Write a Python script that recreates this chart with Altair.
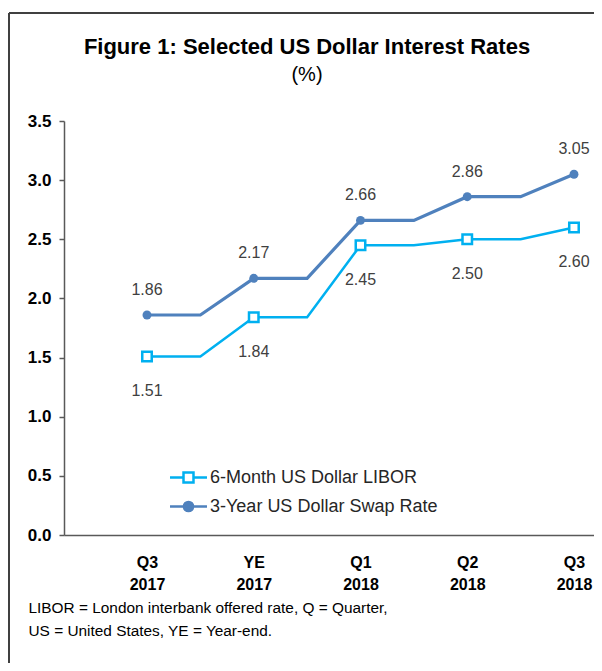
import altair as alt
import pandas as pd

# ---- data ----
quarters = ["Q3", "YE", "Q1", "Q2", "Q3"]
years = ["2017", "2017", "2018", "2018", "2018"]
steps = [0, 1, 2, 3, 4, 5, 6, 7, 8]          # half-quarter steps; markers at even steps
libor = [1.51, 1.51, 1.84, 1.84, 2.45, 2.45, 2.50, 2.50, 2.60]
swap = [1.86, 1.86, 2.17, 2.17, 2.66, 2.66, 2.86, 2.86, 3.05]
series_names = ["6-Month US Dollar LIBOR", "3-Year US Dollar Swap Rate"]
colors = ["#00B0F0", "#4F81BD"]
marker_fills = ["#FFFFFF", "#4F81BD"]
y_ticks = [0.0, 0.5, 1.0, 1.5, 2.0, 2.5, 3.0, 3.5]
title_text = "Figure 1: Selected US Dollar Interest Rates"
subtitle_text = "(%)"
footnote = ["LIBOR = London interbank offered rate, Q = Quarter,",
            "US = United States, YE = Year-end."]

FONT = "Liberation Sans, Arial, sans-serif"

rows = []
for name, vals in zip(series_names, [libor, swap]):
    for s, v in zip(steps, vals):
        rows.append({"step": s, "value": v, "series": name,
                     "marker": s % 2 == 0, "label": f"{v:.2f}"})
df = pd.DataFrame(rows)

W, H = 530, 414

q_arr = "[" + ",".join(f"'{q}'" for q in quarters) + "]"
y_arr = "[" + ",".join(f"'{y}'" for y in years) + "]"

x_enc = alt.X(
    "step:Q",
    scale=alt.Scale(domain=[-1.555, 8.375], nice=False, zero=False),
    axis=alt.Axis(
        values=[0, 2, 4, 6, 8],
        labelExpr=f"[{q_arr}[datum.value/2], {y_arr}[datum.value/2]]",
        labelFont=FONT, labelFontSize=16, labelFontWeight="bold", labelColor="#000000",
        labelLineHeight=22, labelPadding=19, labelOverlap=False, labelFlush=False,
        ticks=False, grid=False, domainColor="#595959", domainWidth=1.5,
        title=footnote, titleFont=FONT, titleFontSize=15.4, titleFontWeight="normal",
        titleColor="#000000", titleAlign="left", titleAnchor="start",
        titleBaseline="top", titleLineHeight=23, titleX=-36, titleY=65,
    ),
)
y_enc = alt.Y(
    "value:Q",
    scale=alt.Scale(domain=[0, 3.5], nice=False, zero=True),
    axis=alt.Axis(
        values=y_ticks, format=".1f", title=None,
        labelFont=FONT, labelFontSize=17, labelFontWeight="bold", labelColor="#000000",
        labelPadding=8, tickSize=5, tickColor="#595959", tickWidth=1.5,
        domainColor="#595959", domainWidth=1.5, grid=False,
    ),
)

base = alt.Chart(df)
libor_df = base.transform_filter(f"datum.series == '{series_names[0]}'")
swap_df = base.transform_filter(f"datum.series == '{series_names[1]}'")

libor_line = libor_df.mark_line(color=colors[0], strokeWidth=2.5).encode(x=x_enc, y=y_enc)
swap_line = swap_df.mark_line(color=colors[1], strokeWidth=3.2).encode(x=x_enc, y=y_enc)

libor_m = libor_df.transform_filter("datum.marker")
swap_m = swap_df.transform_filter("datum.marker")

libor_pts = libor_m.mark_point(shape="square", filled=True, fill="white", stroke=colors[0],
                               strokeWidth=2.5, size=90, opacity=1).encode(x=x_enc, y=y_enc)
swap_pts = swap_m.mark_circle(size=80, color=colors[1], opacity=1).encode(x=x_enc, y=y_enc)

libor_txt = libor_m.mark_text(dy=35, font=FONT, fontSize=16, color="#404040").encode(
    x=x_enc, y=y_enc, text="label:N")
swap_txt = swap_m.mark_text(dy=-25, font=FONT, fontSize=16, color="#404040").encode(
    x=x_enc, y=y_enc, text="label:N")

# legend symbols: line with marker (path drawn in a -2..2 box so the line is twice the nominal size)
path_sq = "M-2,0H-0.54M0.54,0H2M-0.54,-0.54H0.54V0.54H-0.54Z"
path_ci = "M-2,0H2M-0.5,0A0.5,0.5 0 1,0 0.5,0A0.5,0.5 0 1,0 -0.5,0Z"

legend = alt.Legend(
    title=None, orient="none", legendX=114, legendY=346, padding=0,
    labelFont=FONT, labelFontSize=18, labelColor="#262626", labelOffset=11, labelLimit=400,
    symbolSize=342, symbolStrokeWidth=2.5, symbolOpacity=1, rowPadding=8,
)
legend_layer = base.transform_filter("datum.marker").mark_point(opacity=0).encode(
    x=x_enc, y=y_enc,
    stroke=alt.Stroke("series:N", scale=alt.Scale(domain=series_names, range=colors), legend=legend),
    fill=alt.Fill("series:N", scale=alt.Scale(domain=series_names, range=marker_fills), legend=legend),
    shape=alt.Shape("series:N", scale=alt.Scale(domain=series_names, range=[path_sq, path_ci]), legend=legend),
)

frame_df = pd.DataFrame({"a": [0]})
frame_top = alt.Chart(frame_df).mark_rule(color="#404040", strokeWidth=2).encode(
    x=alt.value(-55), x2=alt.value(W), y=alt.value(-108))
frame_left = alt.Chart(frame_df).mark_rule(color="#404040", strokeWidth=2).encode(
    x=alt.value(-55), y=alt.value(-108), y2=alt.value(H + 128))

chart = alt.layer(
    frame_top, frame_left, libor_line, swap_line, libor_pts, swap_pts,
    libor_txt, swap_txt, legend_layer
).properties(
    width=W, height=H,
    padding={"left": 56, "top": 113, "right": 0, "bottom": 128},
    autosize=alt.AutoSizeParams(type="none"),
    title=alt.Title(
        text=title_text, subtitle=subtitle_text,
        font=FONT, fontSize=22, fontWeight="bold", color="#000000",
        subtitleFont=FONT, subtitleFontSize=20, subtitleColor="#000000",
        anchor="middle", dx=-22, offset=-74, subtitlePadding=6,
    ),
).configure_view(stroke=None)

chart.save("out.html", embed_options={"renderer": "svg", "actions": False})
